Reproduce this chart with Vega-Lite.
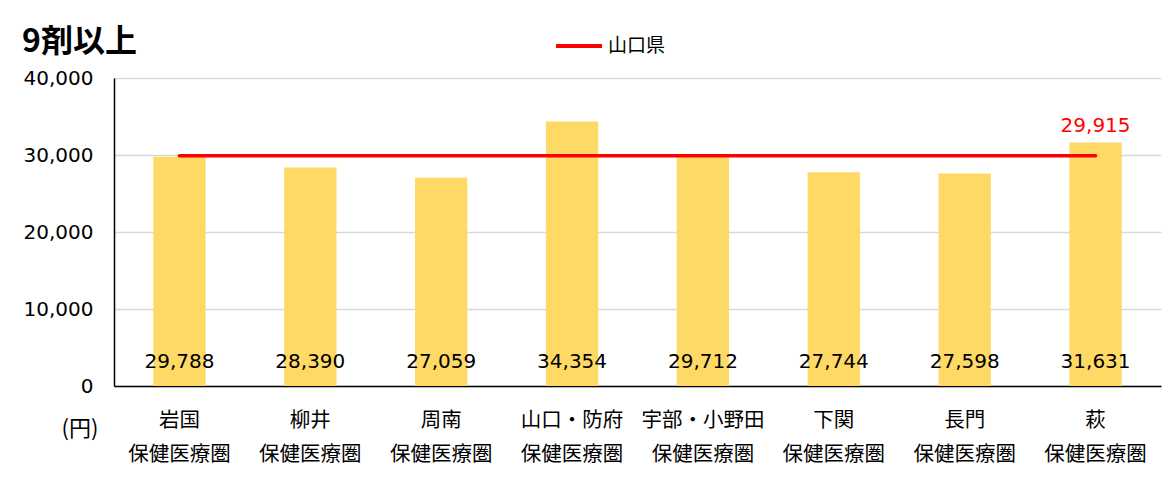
{
  "$schema": "https://vega.github.io/schema/vega-lite/v6.json",
  "width": 1047,
  "height": 308,
  "autosize": "none",
  "padding": {"left": 114, "top": 78, "right": 15, "bottom": 92},
  "background": "white",
  "title": {
    "text": "9剤以上",
    "anchor": "start",
    "frame": "group",
    "dx": -92,
    "dy": 52,
    "offset": 14,
    "fontSize": 32,
    "font": "Noto Sans CJK JP",
    "fontWeight": "bold",
    "color": "#000000"
  },
  "config": {
    "view": {"stroke": null},
    "font": "DejaVu Sans",
    "axisY": {
      "tickCount": 5,
      "format": ",",
      "labelExpr": "format(datum.value, ',')",
      "grid": true,
      "gridColor": "#d9d9d9",
      "gridWidth": 1.3,
      "ticks": false,
      "domainColor": "#000000",
      "domainWidth": 1.5,
      "labelFontSize": 20,
      "labelColor": "#000000",
      "labelPadding": 21,
      "titleAngle": 0,
      "titleX": -53,
      "titleY": 350,
      "titleAlign": "left",
      "titleBaseline": "middle",
      "titleFont": "Noto Sans CJK JP",
      "titleFontSize": 22,
      "titleFontWeight": "normal",
      "titleColor": "#000000"
    }
  },
  "data": {
    "values": [
      {"name": "岩国", "value": 29788, "pref": 29915},
      {"name": "柳井", "value": 28390, "pref": 29915},
      {"name": "周南", "value": 27059, "pref": 29915},
      {"name": "山口・防府", "value": 34354, "pref": 29915},
      {"name": "宇部・小野田", "value": 29712, "pref": 29915},
      {"name": "下関", "value": 27744, "pref": 29915},
      {"name": "長門", "value": 27598, "pref": 29915},
      {"name": "萩", "value": 31631, "pref": 29915}
    ]
  },
  "encoding": {
    "x": {
      "field": "name",
      "type": "nominal",
      "sort": null,
      "scale": {"paddingInner": 0.6, "paddingOuter": 0.3},
      "axis": {
        "title": null,
        "labelAngle": 0,
        "labelExpr": "[datum.label, '保健医療圏']",
        "labelFont": "Noto Sans CJK JP",
        "labelFontSize": 20.5,
        "labelLineHeight": 34,
        "labelPadding": 24,
        "labelColor": "#000000",
        "ticks": false,
        "domainColor": "#000000",
        "domainWidth": 1.5
      }
    }
  },
  "layer": [
    {
      "mark": {"type": "bar", "color": "#FFD966"},
      "encoding": {
        "y": {
          "field": "value",
          "type": "quantitative",
          "scale": {"domain": [0, 40000], "nice": false},
          "axis": {"title": "(円)"}
        }
      }
    },
    {
      "mark": {"type": "text", "baseline": "alphabetic", "dy": -18, "fontSize": 20, "color": "#000000"},
      "encoding": {
        "y": {"datum": 0, "type": "quantitative"},
        "text": {"field": "value", "type": "quantitative", "format": ","}
      }
    },
    {
      "mark": {"type": "line", "strokeWidth": 3.5, "strokeCap": "round"},
      "encoding": {
        "y": {"field": "pref", "type": "quantitative"},
        "color": {
          "datum": "山口県",
          "scale": {"domain": ["山口県"], "range": ["#FF0000"]},
          "legend": {
            "orient": "none",
            "legendX": 440,
            "legendY": -57,
            "title": null,
            "symbolType": "stroke",
            "symbolSize": 2116,
            "symbolStrokeWidth": 4,
            "labelFont": "Noto Sans CJK JP",
            "labelFontSize": 19,
            "labelColor": "#000000",
            "labelOffset": 4
          }
        }
      }
    },
    {
      "transform": [{"filter": "datum.name === '萩'"}],
      "mark": {"type": "text", "baseline": "alphabetic", "dy": -10, "fontSize": 20, "color": "#FF0000"},
      "encoding": {
        "y": {"field": "value", "type": "quantitative"},
        "text": {"field": "pref", "type": "quantitative", "format": ","}
      }
    }
  ]
}
